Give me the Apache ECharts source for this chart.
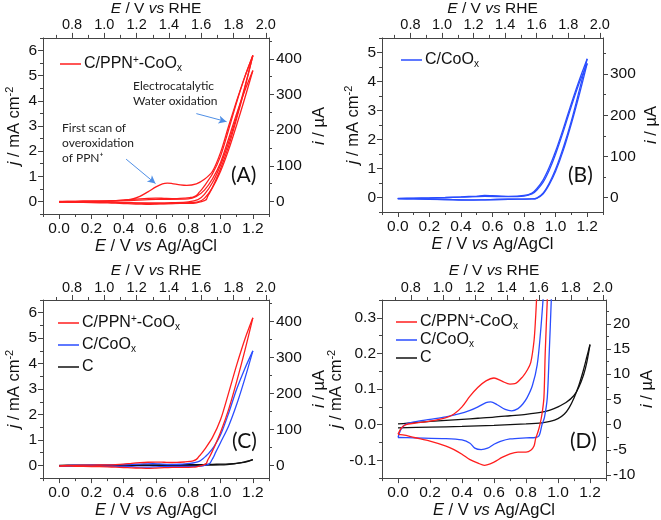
<!DOCTYPE html>
<html>
<head>
<meta charset="utf-8">
<script src="https://cdn.jsdelivr.net/npm/echarts@6/dist/echarts.min.js"></script>
<style>
  html, body { margin: 0; padding: 0; background: #fff; }
  #chart { width: 661px; height: 520px; }
</style>
</head>
<body>
<div id="chart"></div>
<script>
// potential offset Ag/AgCl -> RHE, and current conversion (uA per mA cm-2)
var rheOffset = 0.72;
var uAperJ = 70.6;

// tick labels
var xTicks = [0, 0.2, 0.4, 0.6, 0.8, 1.0, 1.2];
var xMinor = [-0.1, 0.1, 0.3, 0.5, 0.7, 0.9, 1.1, 1.3];
var rheTicks = [0.8, 1.0, 1.2, 1.4, 1.6, 1.8, 2.0];
var rheMinor = [0.7, 0.9, 1.1, 1.3, 1.5, 1.7, 1.9];
var jTicksA = [0, 1, 2, 3, 4, 5, 6];
var jMinorA = [-0.5, 0.5, 1.5, 2.5, 3.5, 4.5, 5.5, 6.5];
var iTicksA = [0, 100, 200, 300, 400];
var iMinorA = [-50, 50, 150, 250, 350, 450];
var jTicksB = [0, 1, 2, 3, 4, 5];
var jMinorB = [-0.5, 0.5, 1.5, 2.5, 3.5, 4.5, 5.5];
var iTicksB = [0, 100, 200, 300];
var iMinorB = [-50, 50, 150, 250, 350];
var jTicksD = [-0.1, 0, 0.1, 0.2, 0.3];
var jMinorD = [-0.15, -0.05, 0.05, 0.15, 0.25, 0.35];
var iTicksD = [-10, -5, 0, 5, 10, 15, 20];
var iMinorD = [-7.5, -2.5, 2.5, 7.5, 12.5, 17.5, 22.5];

// (A) C/PPN+-CoOx, repeated scans  [E vs Ag/AgCl, j mA cm-2]
var scan1Fwd = [[0,0],[0.1,0.005],[0.2,0.01],[0.3,0.02],[0.4,0.05],[0.45,0.09],[0.5,0.2],[0.55,0.38],[0.6,0.58],[0.64,0.7],[0.67,0.73],[0.7,0.71],[0.75,0.66],[0.79,0.64],[0.85,0.7],[0.9,0.88],[0.95,1.2],[1.0,1.95],[1.05,3.0],[1.1,4.0],[1.15,4.95],[1.2,5.8]];
var scan1Rev = [[1.2,5.8],[1.15,4.55],[1.1,3.4],[1.05,2.35],[1.0,1.45],[0.95,0.75],[0.9,0.28],[0.86,0.07],[0.8,-0.02],[0.7,-0.05],[0.6,-0.06],[0.5,-0.06],[0.4,-0.04],[0.2,-0.03],[0,-0.02]];
var scan3Fwd = [[0,-0.02],[0.2,0.0],[0.4,0.03],[0.6,0.08],[0.8,0.1],[0.85,0.2],[0.9,0.45],[0.95,0.9],[1.0,1.55],[1.05,2.5],[1.1,3.5],[1.15,4.4],[1.2,5.2]];
var scan3Rev = [[1.2,5.2],[1.15,4.1],[1.1,3.05],[1.05,2.05],[1.0,1.2],[0.95,0.55],[0.9,0.12],[0.86,-0.02],[0.8,-0.05],[0.6,-0.09],[0.4,-0.05],[0.2,-0.03],[0,-0.02]];

// C/PPN+-CoOx steady loop (C, D and A)
var redFwd = [[0,-0.027],[0.02,-0.01],[0.05,0.0],[0.1,0.004],[0.2,0.01],[0.3,0.02],[0.35,0.03],[0.4,0.05],[0.45,0.08],[0.5,0.105],[0.55,0.123],[0.6,0.131],[0.65,0.122],[0.7,0.114],[0.73,0.115],[0.78,0.135],[0.81,0.155],[0.83,0.175],[0.85,0.235],[0.86,0.3],[0.867,0.36],[0.88,0.45],[0.9,0.62],[0.95,1.1],[1.0,1.8],[1.05,2.85],[1.1,3.95],[1.15,4.95],[1.2,5.8]];
var redRev = [[1.2,5.8],[1.15,4.5],[1.1,3.3],[1.05,2.2],[1.0,1.3],[0.96,0.7],[0.945,0.5],[0.933,0.35],[0.92,0.2],[0.912,0.076],[0.9,0.03],[0.887,0.0],[0.875,-0.02],[0.86,-0.04],[0.85,-0.06],[0.83,-0.072],[0.8,-0.077],[0.75,-0.077],[0.7,-0.082],[0.65,-0.092],[0.6,-0.105],[0.54,-0.114],[0.5,-0.108],[0.45,-0.098],[0.4,-0.083],[0.35,-0.07],[0.3,-0.06],[0.2,-0.046],[0.1,-0.036],[0.05,-0.03],[0,-0.027]];

// C/CoOx loop (C, D)
var blueFwd = [[0,-0.036],[0.02,-0.012],[0.05,0.002],[0.1,0.008],[0.2,0.015],[0.3,0.022],[0.38,0.03],[0.45,0.04],[0.5,0.05],[0.55,0.062],[0.58,0.064],[0.62,0.056],[0.67,0.043],[0.71,0.039],[0.75,0.045],[0.78,0.058],[0.807,0.076],[0.84,0.11],[0.87,0.168],[0.891,0.26],[0.908,0.36],[0.93,0.5],[0.96,0.75],[1.0,1.2],[1.05,2.05],[1.1,3.0],[1.15,3.8],[1.2,4.5]];
var blueRev = [[1.2,4.5],[1.15,3.4],[1.1,2.4],[1.05,1.55],[1.0,0.9],[0.97,0.52],[0.958,0.35],[0.945,0.2],[0.933,0.076],[0.915,0.02],[0.9,0.0],[0.89,-0.02],[0.88,-0.032],[0.86,-0.036],[0.8,-0.037],[0.7,-0.04],[0.64,-0.047],[0.6,-0.055],[0.56,-0.066],[0.52,-0.07],[0.48,-0.066],[0.45,-0.052],[0.4,-0.043],[0.3,-0.039],[0.1,-0.037],[0,-0.036]];

// (B) C/CoOx repeated scans
var b1Fwd = [[0,-0.03],[0.1,-0.02],[0.2,-0.01],[0.3,0.0],[0.4,0.02],[0.5,0.05],[0.55,0.07],[0.6,0.06],[0.7,0.04],[0.8,0.07],[0.85,0.15],[0.88,0.3],[0.92,0.6],[0.96,1.05],[1.0,1.6],[1.05,2.4],[1.1,3.25],[1.15,4.05],[1.2,4.78]];
var b1Rev = [[1.2,4.78],[1.15,3.7],[1.1,2.65],[1.05,1.75],[1.0,0.98],[0.96,0.5],[0.92,0.15],[0.88,-0.02],[0.85,-0.05],[0.7,-0.06],[0.55,-0.08],[0.45,-0.09],[0.3,-0.07],[0.1,-0.05],[0,-0.04]];
var b2Fwd = [[0,-0.04],[0.2,-0.02],[0.4,0.01],[0.55,0.04],[0.7,0.03],[0.8,0.05],[0.85,0.12],[0.88,0.25],[0.92,0.52],[0.96,0.95],[1.0,1.5],[1.05,2.3],[1.1,3.15],[1.15,3.95],[1.2,4.62]];
var b2Rev = [[1.2,4.62],[1.15,3.55],[1.1,2.55],[1.05,1.65],[1.0,0.9],[0.96,0.45],[0.92,0.12],[0.88,-0.03],[0.85,-0.05],[0.7,-0.06],[0.55,-0.08],[0.45,-0.085],[0.3,-0.07],[0.1,-0.05],[0,-0.04]];

// bare C loop
var blackFwd = [[0,0.002],[0.1,0.006],[0.2,0.009],[0.3,0.012],[0.4,0.015],[0.5,0.018],[0.6,0.021],[0.7,0.025],[0.8,0.029],[0.9,0.035],[0.95,0.041],[1.0,0.05],[1.05,0.062],[1.1,0.082],[1.13,0.105],[1.16,0.14],[1.18,0.175],[1.2,0.225]];
var blackRev = [[1.2,0.225],[1.18,0.19],[1.16,0.155],[1.13,0.11],[1.1,0.075],[1.07,0.048],[1.04,0.03],[1.0,0.017],[0.95,0.009],[0.9,0.005],[0.8,0.002],[0.6,-0.002],[0.4,-0.005],[0.2,-0.007],[0,-0.009]];

// annotation arrows in panel A (data coords)
var arrowScan = [[0.415, 1.68], [0.597, 0.71]];
var arrowWater = [[0.85, 3.49], [1.037, 3.17]];

var RED = "#ff1e1e", BLUE = "#2a4dff", BLACK = "#111";
var nameRed = "C/PPN+-CoOx", nameBlue = "C/CoOx", nameBlack = "C";
var axisFont = "'Liberation Sans', Arial, sans-serif";
var noteFont = "Lato, 'Open Sans', sans-serif";
var axisColor = "#444";
var titleSize = 16.5, topTitleSize = 15.5, tickSize = 15.5, topTickSize = 14.5, legendSize = 16;

function richFor(size) {
  return {
    i: { fontStyle: "italic", fontSize: size, fontFamily: axisFont, color: "#111" },
    sup: { fontSize: 11, fontFamily: axisFont, color: "#111", padding: [0, 0, 9, 0] }
  };
}

var grids = [], xAxes = [], yAxes = [], series = [], legends = [];

function fmt1(v) { return (Math.round(v * 10) / 10).toFixed(1); }

function addAxis(list, o) { list.push(o); return list.length - 1; }

function panel(p) {
  var g = grids.length;
  grids.push({ left: p.left, top: p.top, width: p.width, height: p.height, containLabel: false });
  var xMin = -0.1, xMax = 1.3;
  var line = { show: true, onZero: false, lineStyle: { color: axisColor, width: 1 } };
  var lbl = { color: "#111", fontSize: tickSize, fontFamily: axisFont };
  var nameStyle = { fontSize: titleSize, fontFamily: axisFont, color: "#111", rich: richFor(titleSize) };
  var topNameStyle = { fontSize: topTitleSize, fontFamily: axisFont, color: "#111", rich: richFor(topTitleSize) };
  var base = { gridIndex: g, type: "value", splitLine: { show: false } };
  var xi = addAxis(xAxes, Object.assign({}, base, {
    position: "bottom", min: xMin, max: xMax, axisLine: line,
    axisTick: { customValues: xTicks, length: 5, lineStyle: { color: axisColor } },
    axisLabel: Object.assign({ customValues: xTicks, margin: 7, formatter: fmt1 }, lbl),
    name: "{i|E} / V {i|vs} Ag/AgCl", nameLocation: "middle", nameGap: 23, nameTextStyle: nameStyle
  }));
  addAxis(xAxes, Object.assign({}, base, {
    position: "bottom", min: xMin, max: xMax, axisLine: { show: false, onZero: false },
    axisTick: { customValues: xMinor, length: 3, lineStyle: { color: axisColor } },
    axisLabel: { show: false }
  }));
  addAxis(xAxes, Object.assign({}, base, {
    position: "top", min: xMin + rheOffset, max: xMax + rheOffset, axisLine: line,
    axisTick: { customValues: rheTicks, length: 5, lineStyle: { color: axisColor } },
    axisLabel: Object.assign({}, lbl, { customValues: rheTicks, margin: 5, formatter: fmt1, fontSize: topTickSize }),
    name: "{i|E} / V {i|vs} RHE", nameLocation: "middle", nameGap: 20, nameTextStyle: topNameStyle
  }));
  addAxis(xAxes, Object.assign({}, base, {
    position: "top", min: xMin + rheOffset, max: xMax + rheOffset, axisLine: { show: false, onZero: false },
    axisTick: { customValues: rheMinor, length: 3, lineStyle: { color: axisColor } },
    axisLabel: { show: false }
  }));
  var yi = addAxis(yAxes, Object.assign({}, base, {
    position: "left", min: p.yMin, max: p.yMax, axisLine: line,
    axisTick: { customValues: p.jTicks, length: 5, lineStyle: { color: axisColor } },
    axisLabel: Object.assign({ customValues: p.jTicks, margin: 6, formatter: p.jFmt }, lbl),
    name: "{i|j} / mA cm{sup|-2}", nameLocation: "middle", nameGap: p.leftGap, nameRotate: 90,
    nameTextStyle: nameStyle
  }));
  addAxis(yAxes, Object.assign({}, base, {
    position: "left", min: p.yMin, max: p.yMax, axisLine: { show: false, onZero: false },
    axisTick: { customValues: p.jMinor, length: 3, lineStyle: { color: axisColor } },
    axisLabel: { show: false }
  }));
  addAxis(yAxes, Object.assign({}, base, {
    position: "right", min: p.yMin * uAperJ, max: p.yMax * uAperJ, axisLine: line,
    axisTick: { customValues: p.iTicks, length: 5, lineStyle: { color: axisColor } },
    axisLabel: Object.assign({ customValues: p.iTicks, margin: 7 }, lbl),
    name: "{i|i} / µA", nameLocation: "middle", nameGap: p.rightGap, nameRotate: 90,
    nameTextStyle: nameStyle
  }));
  addAxis(yAxes, Object.assign({}, base, {
    position: "right", min: p.yMin * uAperJ, max: p.yMax * uAperJ, axisLine: { show: false, onZero: false },
    axisTick: { customValues: p.iMinor, length: 3, lineStyle: { color: axisColor } },
    axisLabel: { show: false }
  }));
  p.curves.forEach(function (c) {
    var s = {
      type: "line", name: c.name, xAxisIndex: xi, yAxisIndex: yi, data: c.data,
      symbol: "none", showSymbol: false, smooth: 0.3, color: c.color,
      lineStyle: { color: c.color, width: 1.3 }
    };
    if (c.markLine) s.markLine = c.markLine;
    series.push(s);
  });
  legends.push({
    left: p.legendLeft, top: p.legendTop, orient: "vertical", icon: "rect",
    itemWidth: 21, itemHeight: 1.5, itemGap: p.legendGap, data: p.legend, selectedMode: false,
    formatter: function (n) {
      if (n === nameRed) return "C/PPN{sup|+}-CoO{sub|x}";
      if (n === nameBlue) return "C/CoO{sub|x}";
      return n;
    },
    textStyle: {
      fontSize: legendSize, fontFamily: axisFont, color: "#111", padding: [0, 0, 0, -2],
      rich: {
        sup: { fontSize: 10, fontFamily: axisFont, color: "#111", padding: [0, 0, 8, 0] },
        sub: { fontSize: 10, fontFamily: axisFont, color: "#111", padding: [8, 0, 0, 0] }
      }
    }
  });
}

var arrowLine = {
  silent: true, symbol: ["none", "arrow"], symbolSize: [6, 8], label: { show: false },
  lineStyle: { color: "#4f8fe6", width: 1, type: "solid" },
  data: [
    [{ coord: arrowScan[0] }, { coord: arrowScan[1] }],
    [{ coord: arrowWater[0] }, { coord: arrowWater[1] }]
  ]
};

panel({
  left: 43, top: 32, width: 226, height: 182, yMin: -0.5, yMax: 6.5,
  jTicks: jTicksA, jMinor: jMinorA, iTicks: iTicksA, iMinor: iMinorA,
  jFmt: function (v) { return String(v); }, leftGap: 19, rightGap: 42,
  legendLeft: 55, legendTop: 50, legendGap: 8, legend: [nameRed],
  curves: [
    { name: nameRed, color: RED, data: scan1Fwd, markLine: arrowLine },
    { name: nameRed, color: RED, data: scan1Rev },
    { name: nameRed, color: RED, data: redFwd },
    { name: nameRed, color: RED, data: redRev },
    { name: nameRed, color: RED, data: scan3Fwd },
    { name: nameRed, color: RED, data: scan3Rev }
  ]
});

panel({
  left: 382, top: 32, width: 224, height: 180, yMin: -0.5, yMax: 5.5,
  jTicks: jTicksB, jMinor: jMinorB, iTicks: iTicksB, iMinor: iMinorB,
  jFmt: function (v) { return String(v); }, leftGap: 19, rightGap: 40,
  legendLeft: 396, legendTop: 47, legendGap: 8, legend: [nameBlue],
  curves: [
    { name: nameBlue, color: BLUE, data: b1Fwd },
    { name: nameBlue, color: BLUE, data: b1Rev },
    { name: nameBlue, color: BLUE, data: b2Fwd },
    { name: nameBlue, color: BLUE, data: b2Rev }
  ]
});

panel({
  left: 43, top: 300, width: 226, height: 182, yMin: -0.5, yMax: 6.5,
  jTicks: jTicksA, jMinor: jMinorA, iTicks: iTicksA, iMinor: iMinorA,
  jFmt: function (v) { return String(v); }, leftGap: 19, rightGap: 42,
  legendLeft: 53, legendTop: 309, legendGap: 5, legend: [nameRed, nameBlue, nameBlack],
  curves: [
    { name: nameBlack, color: BLACK, data: blackFwd },
    { name: nameBlack, color: BLACK, data: blackRev },
    { name: nameBlue, color: BLUE, data: blueFwd },
    { name: nameBlue, color: BLUE, data: blueRev },
    { name: nameRed, color: RED, data: redFwd },
    { name: nameRed, color: RED, data: redRev }
  ]
});

panel({
  left: 382, top: 300, width: 224, height: 182, yMin: -0.15, yMax: 0.35,
  jTicks: jTicksD, jMinor: jMinorD, iTicks: iTicksD, iMinor: iMinorD,
  jFmt: fmt1, leftGap: 31, rightGap: 32,
  legendLeft: 391, legendTop: 308, legendGap: 1, legend: [nameRed, nameBlue, nameBlack],
  curves: [
    { name: nameBlack, color: BLACK, data: blackFwd },
    { name: nameBlack, color: BLACK, data: blackRev },
    { name: nameBlue, color: BLUE, data: blueFwd },
    { name: nameBlue, color: BLUE, data: blueRev },
    { name: nameRed, color: RED, data: redFwd },
    { name: nameRed, color: RED, data: redRev }
  ]
});

var noteStyle = { fill: "#222", font: "12px " + noteFont, lineHeight: 15 };
var tagStyle = { fill: "#111", font: "21px " + noteFont };

var chart = echarts.init(document.getElementById("chart"), null, { renderer: "canvas" });
chart.setOption({
  animation: false,
  backgroundColor: "#fff",
  grid: grids,
  xAxis: xAxes,
  yAxis: yAxes,
  legend: legends,
  series: series,
  graphic: [
    { type: "text", left: 133, top: 79, style: Object.assign({ text: "Electrocatalytic\nWater oxidation" }, noteStyle) },
    { type: "text", left: 62, top: 121, style: Object.assign({ text: "First scan of\noveroxidation\nof PPN⁺" }, noteStyle) },
    { type: "text", left: 231, top: 165, style: Object.assign({ text: "(A)" }, tagStyle) },
    { type: "text", left: 568, top: 165, style: Object.assign({ text: "(B)" }, tagStyle) },
    { type: "text", left: 232, top: 431, style: Object.assign({ text: "(C)" }, tagStyle) },
    { type: "text", left: 570, top: 431, style: Object.assign({ text: "(D)" }, tagStyle) }
  ]
});
</script>
</body>
</html>
